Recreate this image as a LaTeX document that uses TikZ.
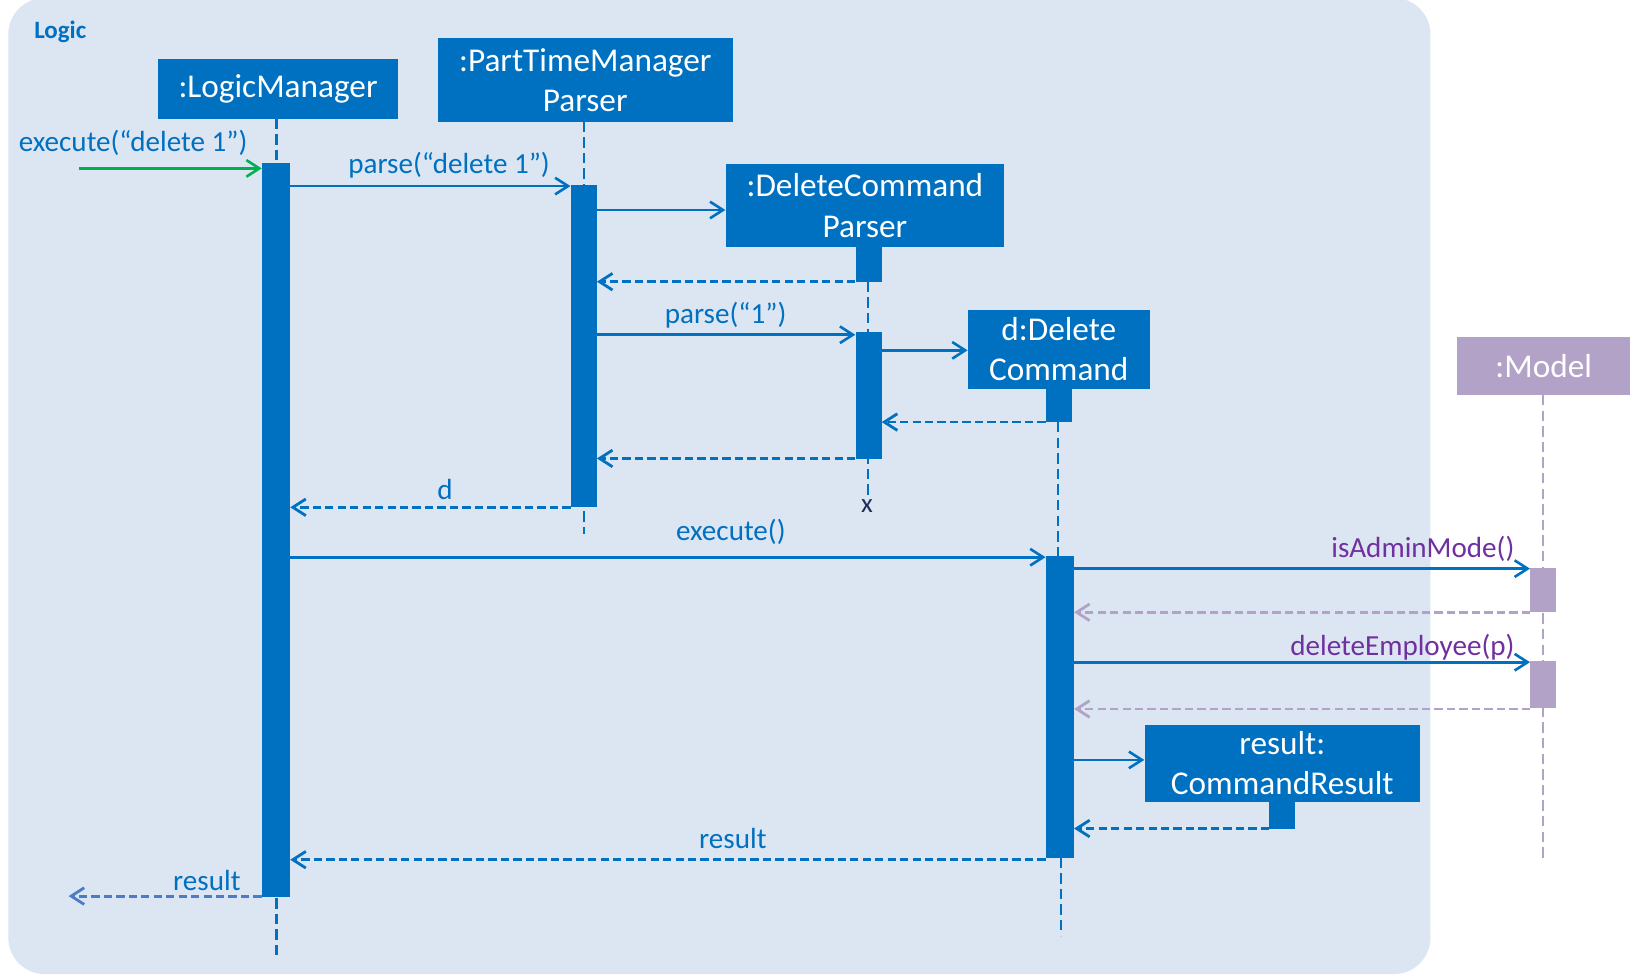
\documentclass[tikz,border=0pt]{standalone}
\usepackage{fontspec}
\setmainfont{Carlito}
\usetikzlibrary{arrows.meta}
\definecolor{bgblue}{HTML}{DCE6F2}
\definecolor{uml}{HTML}{0070C0}
\definecolor{umlgreen}{HTML}{00B050}
\definecolor{lav}{HTML}{B3A2C7}
\definecolor{purp}{HTML}{7030A0}
\definecolor{navy}{HTML}{1F2D5A}
\definecolor{softblue}{HTML}{4A7CC8}
\begin{document}
\begin{tikzpicture}[x=1pt,y=-1pt,
  obj/.style={fill=uml,text=white,inner sep=0pt,align=center,font=\fontsize{32}{39}\selectfont},
  bar/.style={fill=uml,inner sep=0pt,minimum width=25pt},
  life/.style={draw=uml,line width=2pt,dash pattern=on 10pt off 5pt},
  msg/.style={draw=uml,line width=2.5pt,-{Straight Barb[length=12.5pt,width=16pt]}},
  ret/.style={msg,line width=2.7pt,dash pattern=on 8pt off 4pt},
  lbl/.style={text=uml,font=\fontsize{28}{34}\selectfont,inner sep=0pt},
]
\useasboundingbox (0,0) rectangle (1568,938);
\fill[white] (0,0) rectangle (1568,938);
\fill[bgblue, rounded corners=35pt] (8,-2) rectangle (1376,937);
\node[text=uml,font=\fontsize{24}{28}\selectfont\bfseries,inner sep=0pt] (logic) at (58,31) {Logic};

% objects
\node[obj,minimum width=231pt,minimum height=57pt] (lm) at (267.5,85.5) {:LogicManager};
\node[obj,minimum width=284pt,minimum height=80pt] (pt) at (563,77) {:PartTimeManager\\Parser};
\node[obj,minimum width=268pt,minimum height=80pt] (dcp) at (832,198) {:DeleteCommand\\Parser};
\node[obj,minimum width=175pt,minimum height=76pt] (dc) at (1018.5,336) {d:Delete\\Command};
\node[obj,minimum width=265pt,minimum height=74pt] (cr) at (1233.5,734) {result:\\CommandResult};
\node[obj,fill=lav,minimum width=166pt,minimum height=56pt] (model) at (1485,352) {:Model};

% lifeline ends
\coordinate (lmend) at (266,922);
\coordinate (ptend) at (562,514);
\coordinate (dcpend) at (835,478);
\coordinate (dcend) at (1021,900);
\coordinate (mend) at (1484,825);
\coordinate (lmtop) at (266,114);
\coordinate (pttop) at (562,117);
\coordinate (mtop) at (1484,380);

\draw[life] (lmtop) -- (lmend);
\draw[life] (pttop) -- (ptend);
\draw[life] (835,271) -- (dcpend);
\draw[life] (1018,406) -- (1018,535);
\draw[life] (1021,825) -- (dcend);
\draw[life,draw=lav] (mtop) -- (mend);
\node[text=navy,font=\fontsize{26}{30}\selectfont,inner sep=0pt] (xmark) at (834,487) {x};

% activation bars
\node[bar,minimum width=27pt,minimum height=706pt] (lmbar) at (265.5,510) {};
\node[bar,minimum height=310pt] (ptbar) at (561.5,333) {};
\node[bar,minimum height=33pt] (dcpbar0) at (835.5,254.5) {};
\node[bar,minimum height=123pt] (dcpbar) at (835.5,380.5) {};
\node[bar,minimum height=32pt] (dcbar0) at (1018.5,390) {};
\node[bar,minimum width=27pt,minimum height=290pt] (dcbar) at (1019.5,680) {};
\node[bar,minimum height=26pt] (crbar) at (1233.5,784) {};
\node[bar,fill=lav,minimum height=43pt] (mbar1) at (1484.5,567.5) {};
\node[bar,fill=lav,minimum height=45pt] (mbar2) at (1484.5,658.5) {};

% messages
\coordinate (in1) at (76,162);
\coordinate (out1) at (66,862);
\draw[msg,draw=umlgreen] (in1) -- (lmbar.west |- 0,162);
\draw[msg] (lmbar.east |- 0,179) -- (ptbar.west |- 0,179);
\draw[msg] (ptbar.east |- 0,202) -- (dcp.west |- 0,202);
\draw[ret] (dcpbar0.west |- 0,271) -- (ptbar.east |- 0,271);
\draw[msg] (ptbar.east |- 0,322) -- (dcpbar.west |- 0,322);
\draw[msg] (dcpbar.east |- 0,337) -- (dc.west |- 0,337);
\draw[ret] (dcbar0.west |- 0,406) -- (dcpbar.east |- 0,406);
\draw[ret] (dcpbar.west |- 0,441) -- (ptbar.east |- 0,441);
\draw[ret] (ptbar.west |- 0,488) -- (lmbar.east |- 0,488);
\draw[msg] (lmbar.east |- 0,536) -- (dcbar.west |- 0,536);
\draw[msg] (dcbar.east |- 0,547) -- (mbar1.west |- 0,547);
\draw[ret,draw=lav] (mbar1.west |- 0,589) -- (dcbar.east |- 0,589);
\draw[msg] (dcbar.east |- 0,637) -- (mbar2.west |- 0,637);
\draw[ret,draw=lav] (mbar2.west |- 0,682) -- (dcbar.east |- 0,682);
\draw[msg] (dcbar.east |- 0,731) -- (cr.west |- 0,731);
\draw[ret] (crbar.west |- 0,797) -- (dcbar.east |- 0,797);
\draw[ret] (dcbar.west |- 0,827) -- (lmbar.east |- 0,827);
\draw[ret,draw=softblue] (lmbar.west |- 0,862) -- (out1);

% labels
\node[lbl] (l1) at (128,137) {execute(“delete 1”)};
\node[lbl] (l2) at (432,159) {parse(“delete 1”)};
\node[lbl] (l3) at (698,303) {parse(“1”)};
\node[lbl] (l4) at (428,471) {d};
\node[lbl] (l5) at (703,512) {execute()};
\node[lbl,text=purp,anchor=east] (l6) at (1457,528) {isAdminMode()};
\node[lbl,text=purp,anchor=east] (l7) at (1457,623) {deleteEmployee(p)};
\node[lbl] (l8) at (705,807) {result};
\node[lbl] (l9) at (199,847) {result};
\end{tikzpicture}
\end{document}
